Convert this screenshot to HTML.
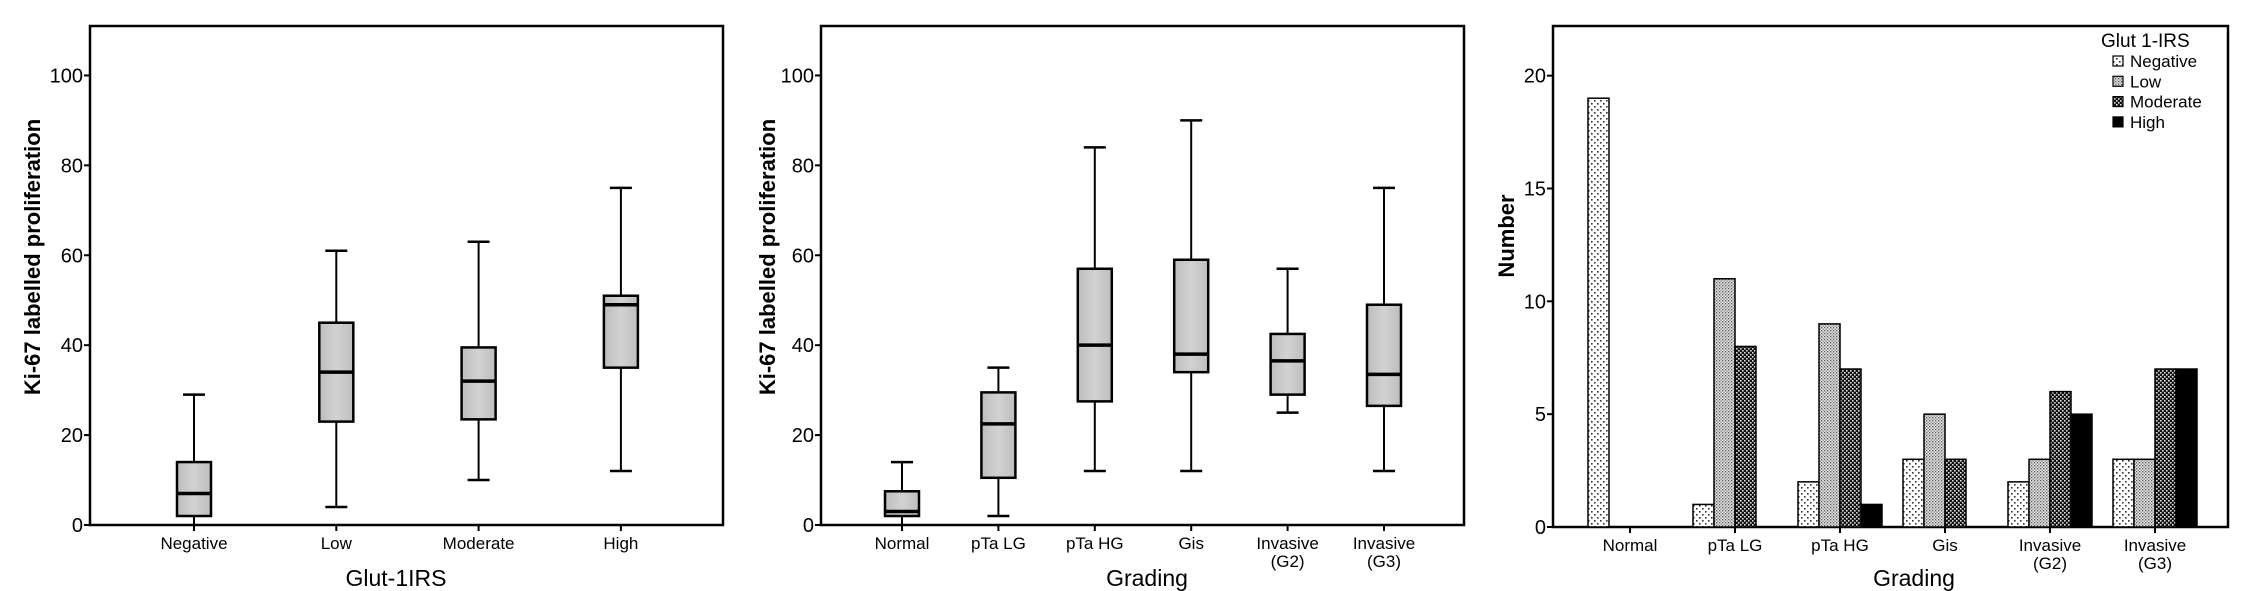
<!DOCTYPE html>
<html><head><meta charset="utf-8"><style>
html,body{margin:0;padding:0;background:#fff;}
svg{display:block;font-family:"Liberation Sans",Arial,sans-serif;}
</style></head><body>
<svg id="fig" width="2244" height="591" viewBox="0 0 2244 591" xmlns="http://www.w3.org/2000/svg">
<defs>
<linearGradient id="boxg" x1="0" x2="1" y1="0" y2="0">
<stop offset="0" stop-color="#bdbdbd"/><stop offset="0.5" stop-color="#d2d2d2"/><stop offset="1" stop-color="#bdbdbd"/></linearGradient>
<pattern id="pNeg" width="6" height="6" patternUnits="userSpaceOnUse"><rect width="6" height="6" fill="#fff"/><rect x="1" y="1" width="1.6" height="1.6" fill="#333"/><rect x="4" y="4" width="1.6" height="1.6" fill="#333"/></pattern>
<pattern id="pLow" width="3" height="3" patternUnits="userSpaceOnUse"><rect width="3" height="3" fill="#e6e6e6"/><rect x="0" y="0" width="1.3" height="1.3" fill="#555"/><rect x="1.5" y="1.5" width="1.3" height="1.3" fill="#777"/></pattern>
<pattern id="pMod" width="4" height="4" patternUnits="userSpaceOnUse"><rect width="4" height="4" fill="#111"/><rect x="0" y="0" width="1.6" height="1.6" fill="#ddd"/><rect x="2" y="2" width="1.6" height="1.6" fill="#ddd"/></pattern>
</defs>
</svg>
<script>
// Panel 1 data
const cats1 = ["Negative","Low","Moderate","High"];
const min1 = [0,4,10,12];
const q1_1 = [2,23,23.5,35];
const med1 = [7,34,32,49];
const q3_1 = [14,45,39.5,51];
const max1 = [29,61,63,75];
// Panel 2 data
const cats2 = [["Normal"],["pTa LG"],["pTa HG"],["Gis"],["Invasive","(G2)"],["Invasive","(G3)"]];
const min2 = [0,2,12,12,25,12];
const q1_2 = [2,10.5,27.5,34,29,26.5];
const med2 = [3,22.5,40,38,36.5,33.5];
const q3_2 = [7.5,29.5,57,59,42.5,49];
const max2 = [14,35,84,90,57,75];
const yTicks12 = [0,20,40,60,80,100];
// Panel 3 data
const cats3 = cats2;
const seriesNames = ["Negative","Low","Moderate","High"];
const sNeg = [19,1,2,3,2,3];
const sLow = [0,11,9,5,3,3];
const sMod = [0,8,7,3,6,7];
const sHigh = [0,0,1,0,5,7];
const yTicks3 = [0,5,10,15,20];

const NS="http://www.w3.org/2000/svg";
const svg=document.getElementById('fig');
function mk(tag,attrs,parent,text){const e=document.createElementNS(NS,tag);for(const k in attrs)e.setAttribute(k,attrs[k]);if(text!==undefined)e.textContent=text;(parent||svg).appendChild(e);return e;}

function frame(g,x0,x1,y0,y1){
  const r=mk('rect',{x:x0,y:y0,width:x1-x0,height:y1-y0,fill:'none',stroke:'#000','stroke-width':2.5},g);
  
  
}
function yAxis(g,x0,yScale,ticks,name){
  ticks.forEach(t=>{
    const y=yScale(t);
    mk('line',{x1:x0-6,x2:x0,y1:y,y2:y,stroke:'#000','stroke-width':2},g);
    const tx=mk('text',{x:x0-7,y:y+7,'text-anchor':'end','font-size':20},g,String(t));
    
    
  });
}
function xLabels(g,cats,xScale,yAx,name){
  cats.forEach((c,i)=>{
    const x=xScale(i);
    mk('line',{x1:x,x2:x,y1:yAx,y2:yAx+6,stroke:'#000','stroke-width':2},g);
    const lines=Array.isArray(c)?c:[c];
    lines.forEach((l,j)=>{
      const t=mk('text',{x:x,y:yAx+24+j*18,'text-anchor':'middle','font-size':17},g,l);
      
      
    });
  });
}
function title(g,x,y,txt,rot,bold,size,name){
  const t=mk('text',{x:x,y:y,'text-anchor':'middle','font-size':size,'font-weight':bold?'bold':'normal',transform:rot?`rotate(-90 ${x} ${y})`:''},g,txt);
  
  
}
function boxplot(g,cats,xScale,yScale,mn,q1,md,q3,mx,name){
  cats.forEach((c,i)=>{
    const x=xScale(i),bw=34,cw=22;
    const bg=mk('g',{},g);
    
    
    mk('line',{x1:x,x2:x,y1:yScale(mn[i]),y2:yScale(mx[i]),stroke:'#000','stroke-width':2},bg);
    mk('line',{x1:x-cw/2,x2:x+cw/2,y1:yScale(mx[i]),y2:yScale(mx[i]),stroke:'#000','stroke-width':2.5},bg);
    if(mn[i]>0) mk('line',{x1:x-cw/2,x2:x+cw/2,y1:yScale(mn[i]),y2:yScale(mn[i]),stroke:'#000','stroke-width':2.5},bg);
    mk('rect',{x:x-bw/2,y:yScale(q3[i]),width:bw,height:yScale(q1[i])-yScale(q3[i]),fill:'url(#boxg)',stroke:'#000','stroke-width':2.5},bg);
    mk('line',{x1:x-bw/2,x2:x+bw/2,y1:yScale(md[i]),y2:yScale(md[i]),stroke:'#000','stroke-width':3.5},bg);
  });
}

// ---- Panel 1
(function(){
  const g=mk('g',{});
  
  
  const x0=90,x1=723,yTop=26,yAx=525;
  const yScale=v=>yAx-(v/111)*(yAx-yTop);
  const xScale=i=>194+i*142.3;
  frame(g,x0,x1,yTop,yAx);
  yAxis(g,x0,yScale,yTicks12,'y-axis-1');
  xLabels(g,cats1,xScale,yAx,'x-axis-1');
  boxplot(g,cats1,xScale,yScale,min1,q1_1,med1,q3_1,max1,'glut');
  title(g,40,257,'Ki-67 labelled proliferation',true,true,22,'y-axis-title-1');
  title(g,396,586,'Glut-1IRS',false,false,23,'x-axis-title-1');
})();
// ---- Panel 2
(function(){
  const g=mk('g',{});
  
  
  const x0=821,x1=1464,yTop=26,yAx=525;
  const yScale=v=>yAx-(v/111)*(yAx-yTop);
  const xScale=i=>902+i*96.4;
  frame(g,x0,x1,yTop,yAx);
  yAxis(g,x0,yScale,yTicks12,'y-axis-2');
  xLabels(g,cats2,xScale,yAx,'x-axis-2');
  boxplot(g,cats2,xScale,yScale,min2,q1_2,med2,q3_2,max2,'grading');
  title(g,775,257,'Ki-67 labelled proliferation',true,true,22,'y-axis-title-2');
  title(g,1147,586,'Grading',false,false,23,'x-axis-title-2');
})();
// ---- Panel 3
(function(){
  const g=mk('g',{});
  
  
  const x0=1553,x1=2228,yTop=26,yAx=527;
  const yScale=v=>yAx-(v/22.2)*(yAx-yTop);
  const xScale=i=>1630+i*105;
  frame(g,x0,x1,yTop,yAx);
  yAxis(g,x0,yScale,yTicks3,'y-axis-3');
  xLabels(g,cats3,xScale,yAx,'x-axis-3');
  const series=[sNeg,sLow,sMod,sHigh];
  const fills=['url(#pNeg)','url(#pLow)','url(#pMod)','#000'];
  const bw=21;
  series.forEach((s,k)=>{
    s.forEach((v,i)=>{
      if(v<=0) return;
      const x=xScale(i)-2*bw+k*bw;
      const r=mk('rect',{x:x,y:yScale(v),width:bw,height:yAx-yScale(v),fill:fills[k],stroke:'#000','stroke-width':1.5},g);
      
      
    });
  });
  title(g,1514,236,'Number',true,true,22,'y-axis-title-3');
  title(g,1914,586,'Grading',false,false,23,'x-axis-title-3');
  const lg=mk('g',{},g);
  
  
  const lt=mk('text',{x:2101,y:47,'font-size':19},lg,'Glut 1-IRS');
  
  
  seriesNames.forEach((n,k)=>{
    const y=61+k*20.3;
    const e=mk('g',{},lg);
    
    
    mk('rect',{x:2113,y:y-5,width:10,height:10,fill:fills[k],stroke:'#000','stroke-width':1.2},e);
    mk('text',{x:2130,y:y+6,'font-size':17},e,n);
  });
})();
</script>
</body></html>
